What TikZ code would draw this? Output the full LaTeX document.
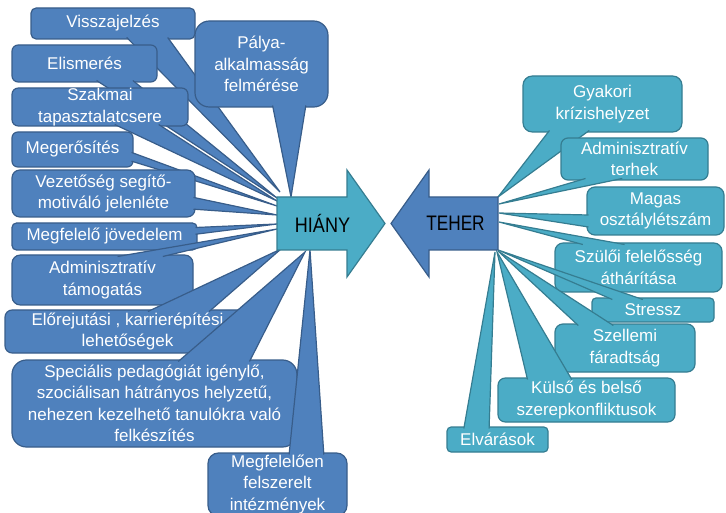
\documentclass[tikz,border=0pt]{standalone}
\usepackage{fontspec}
\setmainfont{Liberation Sans}
\definecolor{bfill}{HTML}{4F81BD}
\definecolor{bline}{HTML}{385D8A}
\definecolor{tfill}{HTML}{4BACC6}
\definecolor{tline}{HTML}{357D91}
\tikzset{
  lbox/.style={fill=bfill, draw=bline, line width=1.2pt},
  rbox/.style={fill=tfill, draw=tline, line width=1.2pt},
  txt/.style={text=white, font=\fontsize{17}{21.5}\selectfont, align=center, inner sep=0pt},
  bigtxt/.style={text=black, font=\fontsize{21}{24}\selectfont, inner sep=0pt},
}
% #1 style, #2 name, #3 left, #4 top, #5 right, #6 bottom, #7 tip x, #8 tip y, #9 text
\newcommand\mycallout[9]{%
  \pgfmathsetmacro\cw{#5-#3}%
  \pgfmathsetmacro\ch{#6-#4}%
  \pgfmathsetmacro\cx{(#3+#5)/2}%
  \pgfmathsetmacro\cy{(#4+#6)/2}%
  \pgfmathsetmacro\cdx{#7-\cx}%
  \pgfmathsetmacro\cdy{#8-\cy}%
  \pgfmathsetmacro\cdz{abs(\cdy)-abs(\cdx)/\cw*\ch}%
  \pgfmathsetmacro\rad{min(\cw,\ch)/6}%
  \pgfmathsetmacro\gx{\cdx>0?7:2}%
  \pgfmathsetmacro\gy{\cdy>0?7:2}%
  \pgfmathsetmacro\axA{#3+\cw*\gx/12}%
  \pgfmathsetmacro\axB{#3+\cw*(\gx+3)/12}%
  \pgfmathsetmacro\ayH{\cdy>0?#6-1.5:#4+1.5}%
  \pgfmathsetmacro\ayA{#4+\ch*\gy/12}%
  \pgfmathsetmacro\ayB{#4+\ch*(\gy+3)/12}%
  \pgfmathsetmacro\axV{\cdx>0?#5-1.5:#3+1.5}%
  \node[#1, minimum width=\cw pt, minimum height=\ch pt, rounded corners=\rad pt,
        inner sep=0pt, outer sep=0pt] (#2) at (\cx,\cy) {};
  \coordinate (#2tip) at (#7,#8);
  \ifdim\cdz pt>0pt
    \coordinate (#2a) at (\axA,\ayH);
    \coordinate (#2b) at (\axB,\ayH);
  \else
    \coordinate (#2a) at (\axV,\ayA);
    \coordinate (#2b) at (\axV,\ayB);
  \fi
  \filldraw[#1] (#2a) -- (#2tip) -- (#2b);
  \node[txt] (#2t) at (\cx,\cy) {#9};
}
\begin{document}
\begin{tikzpicture}[x=1pt,y=-1pt]
\useasboundingbox (0,0) rectangle (726,513);
% left side (HIÁNY)
\mycallout{lbox}{la}{31}{8}{195}{39}{280}{192}{Visszajelzés}
\mycallout{lbox}{lb}{195}{21}{328}{107}{291}{197}{Pálya-\\alkalmasság\\felmérése}
\mycallout{lbox}{lc}{12}{45}{157}{82}{277}{198}{Elismerés}
\mycallout{lbox}{ld}{12}{88}{188}{126}{277}{201}{Szakmai\\tapasztalatcsere}
\mycallout{lbox}{le}{12}{132}{133}{167}{277}{206}{Megerősítés}
\mycallout{lbox}{lf}{12}{170}{195}{217}{277}{215}{Vezetőség segítő-\\motiváló jelenléte}
\mycallout{lbox}{lg}{12}{223}{197}{250}{277}{224}{Megfelelő jövedelem}
\mycallout{lbox}{lh}{12}{255}{193}{305}{277}{229}{Adminisztratív\\támogatás}
\mycallout{lbox}{li}{5}{310}{250}{353}{281}{249}{Előrejutási , karrierépítési\\lehetőségek}
\mycallout{lbox}{lj}{12}{360}{297}{447}{305}{252}{Speciális pedagógiát igénylő,\\szociálisan hátrányos helyzetű,\\nehezen kezelhető tanulókra való\\felkészítés}
\mycallout{lbox}{lk}{208}{453}{347}{516}{310}{250}{Megfelelően\\felszerelt\\intézmények}
% right side (TEHER)
\mycallout{rbox}{ra}{523}{76}{682}{132}{498}{197}{Gyakori\\krízishelyzet}
\mycallout{rbox}{rb}{561}{138}{708}{180}{499}{204}{Adminisztratív\\terhek}
\mycallout{rbox}{rc}{587}{187}{724}{235}{499}{213}{Magas\\osztálylétszám}
\mycallout{rbox}{rd}{555}{243}{722}{292}{499}{222}{Szülői felelősség\\áthárítása}
\mycallout{rbox}{re}{592}{298}{714}{322}{498}{250}{Stressz}
\mycallout{rbox}{rf}{555}{324}{695}{372}{498}{251}{Szellemi\\fáradtság}
\mycallout{rbox}{rg}{498}{378}{675}{422}{497}{252}{Külső és belső\\szerepkonfliktusok}
\mycallout{rbox}{rh}{447}{427}{548}{452}{495}{252}{Elvárások}
% central arrows
\filldraw[fill=tfill, draw=tline, line width=1.2pt, line join=miter]
  (277,197) -- (347,197) -- (347,170) -- (385,223.5) -- (347,277) -- (347,250) -- (277,250) -- cycle;
\node[bigtxt] (hiany) at (322.5,223.5) {\scalebox{0.86}[1]{HIÁNY}};
\filldraw[fill=bfill, draw=bline, line width=1.2pt, line join=miter]
  (498,197) -- (429,197) -- (429,170) -- (391,223.5) -- (429,277) -- (429,250) -- (498,250) -- cycle;
\node[bigtxt] (teher) at (455.5,223.5) {\scalebox{0.82}[1]{TEHER}};
\end{tikzpicture}
\end{document}
